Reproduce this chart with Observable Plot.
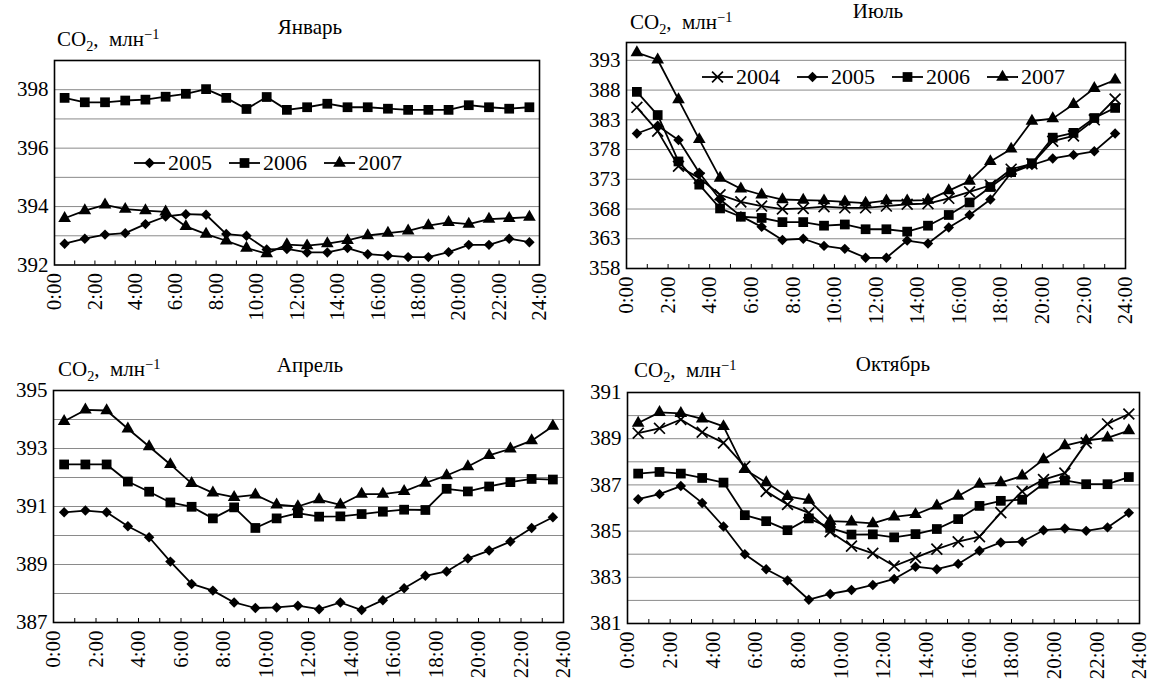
<!DOCTYPE html>
<html><head><meta charset="utf-8">
<script src="https://cdn.jsdelivr.net/npm/d3@7"></script>
<script src="https://cdn.jsdelivr.net/npm/@observablehq/plot@0.6"></script>
<style>
body{margin:0;background:#fff;}
#wrap{position:relative;width:1150px;height:682px;overflow:hidden;font-family:"Liberation Serif",serif;color:#000;background:#fff;}
#wrap svg, #wrap svg text{font-family:"Liberation Serif",serif !important;}
.panel{position:absolute;}
.lbl{position:absolute;font-size:21px;white-space:nowrap;line-height:1;}
.lbl sub{font-size:0.68em;position:relative;top:0.3em;vertical-align:baseline;}
.lbl sup{font-size:0.68em;position:relative;top:-0.55em;vertical-align:baseline;}
.ttl{transform:translateX(-50%);}
.legend{position:absolute;display:flex;align-items:center;font-size:22px;line-height:1;white-space:nowrap;}
.legend .item{display:flex;align-items:center;margin-right:17px;}
.legend svg{margin-right:3px;}
</style></head>
<body><div id="wrap"></div>
<script>
// ---------- data ----------
const hours = [0,1,2,3,4,5,6,7,8,9,10,11,12,13,14,15,16,17,18,19,20,21,22,23];
const xTickValues = [0,2,4,6,8,10,12,14,16,18,20,22,24];
const xTickLabels = ["0:00","2:00","4:00","6:00","8:00","10:00","12:00","14:00","16:00","18:00","20:00","22:00","24:00"];
const years = ["2004","2005","2006","2007"];

const jan2005 = [392.73,392.90,393.04,393.09,393.40,393.66,393.74,393.72,393.06,393.00,392.53,392.55,392.43,392.43,392.58,392.37,392.32,392.27,392.27,392.44,392.69,392.69,392.90,392.78];
const jan2006 = [397.72,397.57,397.57,397.63,397.66,397.76,397.86,398.02,397.72,397.34,397.75,397.31,397.40,397.52,397.40,397.40,397.35,397.31,397.31,397.31,397.47,397.40,397.35,397.40];
const jan2007 = [393.60,393.86,394.06,393.91,393.86,393.82,393.32,393.06,392.83,392.58,392.39,392.70,392.66,392.73,392.84,393.01,393.09,393.17,393.35,393.46,393.40,393.57,393.60,393.64];

const jul2004 = [385.1,381.1,375.2,373.2,370.4,369.2,368.5,368.0,368.1,368.4,368.2,368.2,368.5,368.8,368.9,369.8,370.9,372.0,374.7,375.6,379.4,380.3,383.0,386.5];
const jul2005 = [380.7,382.0,379.6,374.1,369.6,366.8,365.0,362.8,363.0,361.8,361.3,359.8,359.8,362.7,362.2,364.9,367.0,369.6,374.1,375.4,376.5,377.1,377.7,380.7];
const jul2006 = [387.7,383.8,376.0,372.1,368.1,366.7,366.5,365.8,365.8,365.2,365.4,364.6,364.6,364.2,365.2,367.0,369.1,371.7,374.2,375.7,380.0,380.8,383.3,385.0];
const jul2007 = [394.3,393.1,386.4,379.7,373.2,371.4,370.4,369.6,369.5,369.4,369.2,369.0,369.4,369.4,369.5,371.1,372.7,376.0,378.1,382.8,383.2,385.6,388.3,389.7];

const apr2005 = [390.80,390.86,390.80,390.32,389.94,389.10,388.33,388.10,387.69,387.50,387.52,387.58,387.46,387.69,387.43,387.77,388.18,388.61,388.76,389.21,389.48,389.79,390.26,390.63];
const apr2006 = [392.45,392.45,392.45,391.86,391.51,391.14,390.99,390.59,390.97,390.26,390.59,390.77,390.65,390.66,390.74,390.82,390.89,390.88,391.61,391.52,391.69,391.84,391.95,391.93];
const apr2007 = [393.94,394.33,394.31,393.68,393.07,392.45,391.80,391.47,391.32,391.40,391.06,391.00,391.24,391.06,391.43,391.43,391.52,391.81,392.07,392.38,392.76,392.99,393.27,393.77];

const oct2004 = [389.24,389.45,389.83,389.28,388.82,387.80,386.72,386.15,385.79,384.97,384.35,384.04,383.49,383.85,384.22,384.54,384.76,385.80,386.72,387.23,387.51,388.82,389.64,390.07];
const oct2005 = [386.38,386.60,386.95,386.22,385.20,384.00,383.35,382.86,382.03,382.28,382.45,382.67,382.93,383.46,383.35,383.58,384.15,384.51,384.54,385.04,385.11,385.01,385.16,385.79];
const oct2006 = [387.49,387.56,387.49,387.30,387.10,385.69,385.43,385.04,385.55,385.14,384.85,384.86,384.73,384.87,385.09,385.52,386.09,386.31,386.36,387.05,387.20,387.03,387.03,387.34];
const oct2007 = [389.68,390.14,390.10,389.86,389.53,387.67,387.10,386.50,386.34,385.43,385.40,385.33,385.62,385.72,386.09,386.52,387.03,387.10,387.39,388.10,388.70,388.92,389.04,389.35];

const janTicks = [392,394,396,398], janGrid = [393,394,395,396,397,398];
const julTicks = [358,363,368,373,378,383,388,393], julGrid = [363,368,373,378,383,388,393];
const aprTicks = [387,389,391,393,395], aprGrid = [388,389,390,391,392,393,394];
const octTicks = [381,383,385,387,389,391], octGrid = [382,383,384,385,386,387,388,389,390];

const yAxisTitle = 'CO<sub>2</sub>,&nbsp; млн<sup>−1</sup>';
const monthTitles = ["Январь","Июль","Апрель","Октябрь"];

// ---------- styling ----------
const symbols = {
  "2004": {name: "times", d3: d3.symbolTimes, r: 5.0, filled: false},
  "2005": {name: "diamond2", d3: d3.symbolDiamond2, r: 4.7, filled: true},
  "2006": {name: "square", d3: d3.symbolSquare, r: 5.5, filled: true},
  "2007": {name: "triangle", d3: d3.symbolTriangle, r: 4.7, filled: true}
};

const wrap = document.getElementById("wrap");

function panel(cfg) {
  const frameH = cfg.height - cfg.mT - cfg.mB;
  const marks = [
    Plot.ruleY(cfg.grid, {stroke: "#8a8a8a", strokeWidth: 1}),
    Plot.ruleX(hours.concat([24]), {x: d => d, insetTop: frameH - 4, stroke: "black", strokeWidth: 1})
  ];
  for (const s of cfg.series) {
    const rows = hours.map((h, i) => ({h, v: s.values[i]}));
    const sym = symbols[s.year];
    marks.push(Plot.line(rows, {x: d => d.h + 0.5, y: "v", stroke: "black", strokeWidth: 1.8}));
    marks.push(Plot.dot(rows, sym.filled
      ? {x: d => d.h + 0.5, y: "v", symbol: sym.name, r: sym.r, fill: "black", stroke: "none"}
      : {x: d => d.h + 0.5, y: "v", symbol: sym.name, r: sym.r, fill: "none", stroke: "black", strokeWidth: 1.7}));
  }
  marks.push(Plot.frame({stroke: "black", strokeWidth: 1.6}));
  marks.push(Plot.axisY({ticks: cfg.ticks, tickSize: 0, tickPadding: 6, tickFormat: d => String(d), label: null, fontSize: 21}));
  marks.push(Plot.axisX({ticks: xTickValues, tickSize: 0, tickPadding: 8, tickRotate: -90,
    tickFormat: d => xTickLabels[xTickValues.indexOf(d)], label: null, fontSize: 21}));
  const svg = Plot.plot({
    width: cfg.width, height: cfg.height,
    marginLeft: cfg.mL, marginRight: cfg.mR, marginTop: cfg.mT, marginBottom: cfg.mB,
    x: {domain: [0, 24]},
    y: {domain: cfg.domain},
    style: {fontFamily: "Liberation Serif", fontSize: "21px", color: "black", background: "transparent", overflow: "visible"},
    marks
  });
  const div = document.createElement("div");
  div.className = "panel";
  div.style.left = cfg.left + "px";
  div.style.top = cfg.top + "px";
  div.appendChild(svg);
  wrap.appendChild(div);

  const asc = 0.8375 * 21;
  const yl = document.createElement("div");
  yl.className = "lbl";
  yl.innerHTML = yAxisTitle;
  yl.style.left = cfg.yLabel[0] + "px";
  yl.style.top = (cfg.yLabel[1] - asc) + "px";
  wrap.appendChild(yl);
  const t = document.createElement("div");
  t.className = "lbl ttl";
  t.textContent = cfg.title;
  t.style.left = cfg.titlePos[0] + "px";
  t.style.top = (cfg.titlePos[1] - asc) + "px";
  wrap.appendChild(t);

  if (cfg.legend) {
    const lg = document.createElement("div");
    lg.className = "legend";
    lg.style.left = cfg.legend[0] + "px";
    lg.style.top = (cfg.legend[1] - 11) + "px";
    for (const s of cfg.series) {
      const sym = symbols[s.year];
      const item = document.createElement("div");
      item.className = "item";
      const path = d3.symbol().type(sym.d3).size(Math.PI * sym.r * sym.r)();
      item.innerHTML = `<svg width="31" height="16" viewBox="0 0 31 16"><line x1="0" x2="31" y1="8" y2="8" stroke="black" stroke-width="1.8"/><path transform="translate(15.5,8)" d="${path}" fill="${sym.filled ? "black" : "none"}" stroke="${sym.filled ? "none" : "black"}" stroke-width="1.7"/></svg><span>${s.year}</span>`;
      lg.appendChild(item);
    }
    wrap.appendChild(lg);
  }
}

panel({left: 0, top: 0, width: 575, height: 340, mL: 54, mR: 36, mT: 60, mB: 75.5,
  domain: [392, 399], ticks: janTicks, grid: janGrid, title: monthTitles[0],
  titlePos: [310, 35], yLabel: [57, 47], legend: [134, 163],
  series: [{year: years[1], values: jan2005}, {year: years[2], values: jan2006}, {year: years[3], values: jan2007}]});

panel({left: 575, top: 0, width: 575, height: 340, mL: 51, mR: 25, mT: 42, mB: 72,
  domain: [358, 396], ticks: julTicks, grid: julGrid, title: monthTitles[1],
  titlePos: [878, 19], yLabel: [630, 30], legend: [702, 76.5],
  series: [{year: years[0], values: jul2004}, {year: years[1], values: jul2005}, {year: years[2], values: jul2006}, {year: years[3], values: jul2007}]});

panel({left: 0, top: 340, width: 575, height: 342, mL: 53, mR: 12, mT: 50, mB: 60,
  domain: [387, 395], ticks: aprTicks, grid: aprGrid, title: monthTitles[2],
  titlePos: [310, 373], yLabel: [58, 377],
  series: [{year: years[1], values: apr2005}, {year: years[2], values: apr2006}, {year: years[3], values: apr2007}]});

panel({left: 575, top: 340, width: 575, height: 342, mL: 52, mR: 11, mT: 52, mB: 59,
  domain: [381, 391], ticks: octTicks, grid: octGrid, title: monthTitles[3],
  titlePos: [893, 372], yLabel: [634, 378],
  series: [{year: years[0], values: oct2004}, {year: years[1], values: oct2005}, {year: years[2], values: oct2006}, {year: years[3], values: oct2007}]});
</script>
</body></html>
